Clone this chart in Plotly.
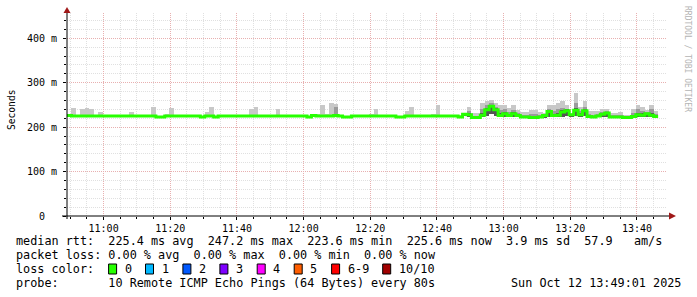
import plotly.graph_objects as go
import pandas as pd

# ---------------- data ----------------
T_START = "2025-10-12 10:49:01"
T_END = "2025-10-12 13:49:01"
STEP_SECONDS = 80

median_rtt = [
    226, 225, 225, 225, 225, 225, 225, 225, 225, 225,
    225, 225, 225, 225, 225, 225, 225, 225, 225, 225,
    223, 223, 225, 225, 225, 225, 225, 225, 225, 225,
    223, 225, 225, 223, 225, 225, 225, 225, 225, 225,
    225, 225, 225, 225, 225, 225, 225, 225, 225, 225,
    225, 225, 225, 225, 223, 226, 225, 225, 225, 225,
    226, 225, 223, 223, 225, 225, 225, 225, 225, 225,
    225, 225, 225, 225, 223, 223, 225, 225, 225, 225,
    225, 225, 225, 225, 225, 225, 225, 225, 223, 229,
    228, 222, 222, 227, 239, 247, 239, 226, 230, 226,
    230, 226, 223, 223, 222, 222, 223, 226, 235, 226,
    227, 234, 237, 228, 238, 228, 237, 224, 223, 225,
    229, 232, 223, 223, 223, 222, 222, 224, 228, 227,
    230, 227, 224,
]

smoke_max = [
    228, 243, 225, 240, 244, 240, 225, 235, 225, 225,
    225, 225, 225, 225, 235, 225, 225, 225, 228, 245,
    223, 223, 229, 243, 225, 225, 225, 225, 225, 225,
    223, 235, 245, 223, 225, 225, 225, 225, 225, 225,
    225, 242, 246, 225, 225, 225, 225, 240, 225, 225,
    225, 225, 225, 225, 223, 228, 229, 249, 229, 254,
    252, 226, 223, 223, 225, 225, 225, 225, 230, 240,
    225, 225, 225, 225, 223, 223, 236, 246, 225, 225,
    228, 227, 229, 249, 225, 225, 225, 225, 226, 232,
    245, 233, 233, 254, 260, 262, 254, 249, 249, 244,
    249, 239, 235, 235, 239, 239, 234, 231, 249, 249,
    254, 260, 249, 232, 276, 245, 258, 237, 237, 237,
    241, 241, 233, 233, 234, 228, 228, 241, 251, 246,
    239, 251, 237,
]

smoke_mid = [
    226, 225, 225, 225, 225, 225, 225, 225, 225, 225,
    225, 225, 225, 225, 225, 225, 225, 225, 225, 225,
    223, 223, 225, 225, 225, 225, 225, 225, 225, 225,
    223, 225, 225, 223, 225, 225, 225, 225, 225, 225,
    225, 225, 225, 225, 225, 225, 225, 225, 225, 225,
    225, 225, 225, 225, 223, 226, 225, 225, 225, 225,
    245, 225, 223, 223, 225, 225, 225, 225, 225, 225,
    225, 225, 225, 225, 223, 223, 225, 225, 225, 225,
    225, 225, 225, 225, 225, 225, 225, 225, 223, 229,
    236, 226, 226, 240, 250, 254, 246, 238, 240, 234,
    238, 232, 228, 228, 230, 230, 228, 228, 240, 236,
    240, 244, 242, 229, 255, 236, 246, 230, 228, 230,
    235, 236, 227, 227, 227, 224, 224, 232, 240, 236,
    234, 240, 230,
]

smoke_core = [
    226, 225, 225, 225, 225, 225, 225, 225, 225, 225,
    225, 225, 225, 225, 225, 225, 225, 225, 225, 225,
    223, 223, 225, 225, 225, 225, 225, 225, 225, 225,
    223, 225, 225, 223, 225, 225, 225, 225, 225, 225,
    225, 225, 225, 225, 225, 225, 225, 225, 225, 225,
    225, 225, 225, 225, 223, 226, 225, 225, 225, 225,
    226, 225, 223, 223, 225, 225, 225, 225, 225, 225,
    225, 225, 225, 225, 223, 223, 225, 225, 225, 225,
    225, 225, 225, 225, 225, 225, 225, 225, 223, 229,
    232, 224, 224, 232, 244, 250, 243, 232, 234, 230,
    234, 229, 225, 225, 224, 224, 225, 226, 238, 230,
    232, 238, 240, 228, 243, 231, 241, 227, 225, 227,
    232, 234, 225, 225, 225, 223, 223, 227, 233, 231,
    233, 232, 227,
]

smoke_min = [
    226, 225, 225, 225, 225, 225, 225, 225, 225, 225,
    225, 225, 225, 225, 225, 225, 225, 225, 225, 225,
    223, 223, 225, 225, 225, 225, 225, 225, 225, 225,
    223, 225, 225, 223, 225, 225, 225, 225, 225, 225,
    225, 225, 225, 225, 225, 225, 225, 225, 225, 225,
    225, 225, 225, 225, 223, 226, 225, 225, 225, 225,
    226, 225, 223, 223, 225, 225, 225, 225, 225, 225,
    225, 225, 225, 225, 223, 223, 225, 225, 225, 225,
    225, 225, 225, 225, 225, 225, 225, 225, 223, 226,
    222, 220, 220, 222, 226, 230, 226, 222, 223, 222,
    223, 222, 221, 221, 220, 220, 221, 222, 224, 222,
    222, 224, 225, 223, 226, 224, 226, 222, 221, 222,
    223, 224, 221, 221, 221, 220, 220, 222, 224, 223,
    224, 223, 222,
]

y_tickvals = [0, 100, 200, 300, 400]
y_ticktext = ["0\u00a0\u00a0", "100 m", "200 m", "300 m", "400 m"]

stats_lines = [
    "median rtt:  225.4 ms avg  247.2 ms max  223.6 ms min  225.6 ms now  3.9 ms sd  57.9   am/s",
    "packet loss: 0.00 % avg  0.00 % max  0.00 % min  0.00 % now",
    "loss color:",
    "probe:       10 Remote ICMP Echo Pings (64 Bytes) every 80s",
]
loss_labels = ["0", "1", "2", "3", "4", "5", "6-9", "10/10"]
loss_colors = ["#26ff00", "#00b8ff", "#0059ff", "#7e00ff", "#ff00ff", "#ff5e00", "#ff0000", "#a10000"]
timestamp_text = "Sun Oct 12 13:49:01 2025"
watermark = "RRDTOOL / TOBI OETIKER"

# ---------------- figure ----------------
W, H = 697, 297
ML, MR, MT, MB = 67, 30, 13, 81
PW = W - ML - MR
PH = H - MT - MB


def px(x):
    return (x - ML) / PW


def py(y):
    return (H - MB - y) / PH


t0 = pd.Timestamp(T_START)
step = pd.Timedelta(seconds=STEP_SECONDS)
times = [t0 + step * i for i in range(len(median_rtt))]

fig = go.Figure()


def band(top, bottom, color):
    return go.Bar(
        x=times,
        y=[t - b for t, b in zip(top, bottom)],
        base=bottom,
        width=STEP_SECONDS * 1000,
        offset=0,
        marker=dict(color=color, line=dict(width=0)),
        hoverinfo="skip",
        showlegend=False,
    )


fig.add_trace(band(smoke_max, smoke_min, "#c8c8c8"))
fig.add_trace(band(smoke_mid, smoke_min, "#9a9a9a"))
fig.add_trace(band(smoke_core, smoke_min, "#555555"))

fig.add_trace(go.Scatter(
    x=times + [times[-1] + step],
    y=median_rtt + [median_rtt[-1]],
    mode="lines",
    line=dict(color="#26ff00", width=3, shape="hv"),
    hoverinfo="skip",
    showlegend=False,
))

tickfont = dict(family="DejaVu Sans Mono", size=10, color="#000000")
major_grid = "#e8b0b0"
minor_grid = "#e0e0e0"

fig.update_layout(
    width=W, height=H,
    margin=dict(l=ML, r=MR, t=MT, b=MB, pad=0),
    paper_bgcolor="#ffffff",
    plot_bgcolor="#ffffff",
    barmode="overlay",
    bargap=0,
    showlegend=False,
    xaxis=dict(
        type="date",
        range=[T_START, T_END],
        tickformat="%H:%M",
        tick0="2025-10-12 11:00:00",
        dtick=20 * 60 * 1000,
        showgrid=True, gridcolor=major_grid, gridwidth=1, griddash="1px,1px",
        ticks="outside", ticklen=3, tickcolor="#000000", tickwidth=1,
        minor=dict(dtick=5 * 60 * 1000, tick0="2025-10-12 11:00:00",
                   showgrid=True, gridcolor=minor_grid, gridwidth=1, griddash="1px,1px",
                   ticks="outside", ticklen=2, tickcolor="#000000"),
        showline=False, zeroline=False,
        tickfont=tickfont,
        fixedrange=True,
    ),
    yaxis=dict(
        range=[0, 457],
        tickmode="array", tickvals=y_tickvals, ticktext=y_ticktext,
        showgrid=True, gridcolor=major_grid, gridwidth=1, griddash="1px,1px",
        ticks="outside", ticklen=3, tickcolor="#000000", tickwidth=1,
        minor=dict(dtick=20, tick0=0, showgrid=True, gridcolor=minor_grid,
                   gridwidth=1, griddash="1px,1px", ticks="outside", ticklen=2,
                   tickcolor="#000000"),
        showline=False, zeroline=False,
        tickfont=tickfont,
        ticklabelstandoff=4,
        fixedrange=True,
    ),
)

shapes = []
# axis lines (extended past the plot like rrdtool)
shapes.append(dict(type="line", xref="paper", yref="paper", x0=px(62), x1=px(670), y0=0, y1=0,
                   line=dict(color="#000000", width=1), layer="above"))
shapes.append(dict(type="line", xref="paper", yref="paper", x0=0, x1=0, y0=py(219), y1=py(11),
                   line=dict(color="#000000", width=1), layer="above"))
# arrow heads
arrow_col = "#a01818"
shapes.append(dict(type="path", xref="paper", yref="paper",
                   path=f"M {px(ML-3.5)} {py(13)} L {px(ML+3.5)} {py(13)} L {px(ML)} {py(7)} Z",
                   fillcolor=arrow_col, line=dict(width=0), layer="above"))
shapes.append(dict(type="path", xref="paper", yref="paper",
                   path=f"M {px(669)} {py(H-MB-3.5)} L {px(669)} {py(H-MB+3.5)} L {px(676)} {py(H-MB)} Z",
                   fillcolor=arrow_col, line=dict(width=0), layer="above"))

annotations = []
legend_font = dict(family="DejaVu Sans Mono", size=11.8, color="#000000")
row_y = [241, 255, 269, 283]
for txt, yy in zip(stats_lines, row_y):
    annotations.append(dict(text=txt.replace(" ", "\u00a0"), xref="paper", yref="paper",
                            x=px(15), y=py(yy), xanchor="left", yanchor="middle",
                            showarrow=False, font=legend_font, borderpad=0))
annotations.append(dict(text=timestamp_text.replace(" ", "\u00a0"), xref="paper", yref="paper",
                        x=px(682), y=py(row_y[3]), xanchor="right", yanchor="middle",
                        showarrow=False, font=legend_font, borderpad=0))

box_x = [108.6, 145.5, 182.9, 219.9, 257.2, 294.2, 331.6, 382.7]
for bx, lab, col in zip(box_x, loss_labels, loss_colors):
    shapes.append(dict(type="rect", xref="paper", yref="paper",
                       x0=px(bx), x1=px(bx + 8), y0=py(row_y[2] + 5), y1=py(row_y[2] - 5),
                       fillcolor=col, line=dict(color="#000000", width=1), layer="above"))
    annotations.append(dict(text=lab, xref="paper", yref="paper",
                            x=px(bx + 15), y=py(row_y[2]), xanchor="left", yanchor="middle",
                            showarrow=False, font=legend_font, borderpad=0))

# y axis title
annotations.append(dict(text="Seconds", xref="paper", yref="paper",
                        x=px(11), y=py(110), xanchor="center", yanchor="middle",
                        textangle=-90, showarrow=False,
                        font=dict(family="DejaVu Sans Mono", size=9.6, color="#000000")))
# watermark
annotations.append(dict(text=watermark, xref="paper", yref="paper",
                        x=px(687), y=py(59), xanchor="center", yanchor="middle",
                        textangle=90, showarrow=False,
                        font=dict(family="DejaVu Sans Mono", size=8, color="#b4b4b4")))

fig.update_layout(shapes=shapes, annotations=annotations)

fig.write_html("out.html")
